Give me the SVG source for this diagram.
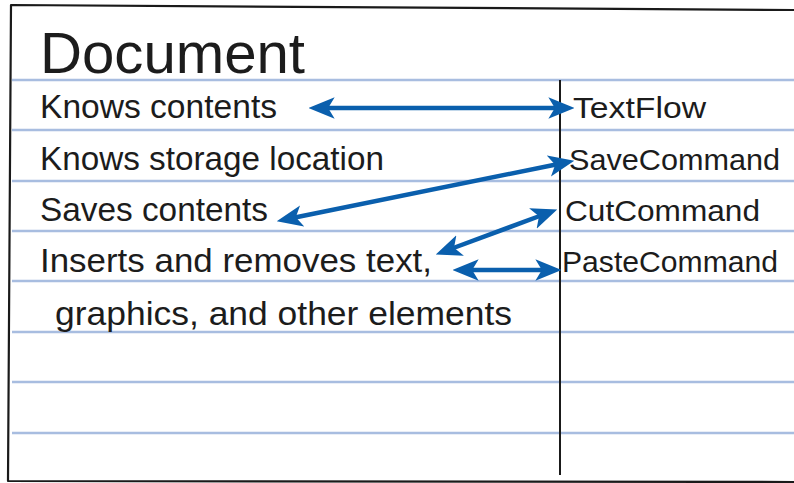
<svg xmlns="http://www.w3.org/2000/svg" width="794" height="483" viewBox="0 0 794 483">
  <defs>
    <style>
      .rule { stroke: #a8bde0; stroke-width: 2.5; fill: none; }
      .border { stroke: #1a1a1a; stroke-width: 2.2; fill: none; stroke-linejoin: round; }
      .txt { font-family: "Liberation Sans", "DejaVu Sans", sans-serif; fill: #1c1c1c; }
      .resp { font-size: 33px; }
      .collab { font-size: 30px; }
      .title { font-size: 58px; }
      .arrow { stroke: #0a5fad; stroke-width: 4.5; fill: none; marker-start: url(#head); marker-end: url(#head); }
    </style>
    <marker id="head" markerUnits="userSpaceOnUse" markerWidth="26" markerHeight="22" viewBox="0 0 24 20" refX="8" refY="10" orient="auto-start-reverse">
      <path d="M0,0 L24,10 L0,20 L6,10 Z" fill="#0a5fad"/>
    </marker>
    <linearGradient id="fade" x1="0" y1="0" x2="0" y2="1">
      <stop offset="0" stop-color="#555"/>
      <stop offset="1" stop-color="#555" stop-opacity="0"/>
    </linearGradient>
  </defs>

  <rect x="0" y="0" width="794" height="483" fill="#ffffff"/>

  <g id="card">
    <line x1="793" y1="28" x2="793" y2="300" stroke="url(#fade)" stroke-width="2"/>
    <g id="rules">
      <line class="rule" x1="12" y1="80" x2="794" y2="80"/>
      <line class="rule" x1="12" y1="130" x2="794" y2="130"/>
      <line class="rule" x1="12" y1="181" x2="794" y2="181"/>
      <line class="rule" x1="12" y1="231" x2="794" y2="231"/>
      <line class="rule" x1="12" y1="281" x2="794" y2="281"/>
      <line class="rule" x1="12" y1="332" x2="794" y2="332"/>
      <line class="rule" x1="12" y1="382" x2="794" y2="382"/>
      <line class="rule" x1="12" y1="433" x2="794" y2="433"/>
    </g>
    <path class="border" d="M794,10 L11,5 L8,481 L794,482"/>
    <line x1="560" y1="80" x2="560" y2="475" stroke="#1a1a1a" stroke-width="2"/>
  </g>

  <g id="title">
    <text class="txt title" x="40" y="73" textLength="265" lengthAdjust="spacingAndGlyphs">Document</text>
  </g>

  <g id="responsibilities">
    <text class="txt resp" x="40" y="118" textLength="237" lengthAdjust="spacingAndGlyphs">Knows contents</text>
    <text class="txt resp" x="40" y="170" textLength="344" lengthAdjust="spacingAndGlyphs">Knows storage location</text>
    <text class="txt resp" x="40" y="221" textLength="228" lengthAdjust="spacingAndGlyphs">Saves contents</text>
    <text class="txt resp" x="40" y="272" textLength="392" lengthAdjust="spacingAndGlyphs">Inserts and removes text,</text>
    <text class="txt resp" x="55" y="325" textLength="457" lengthAdjust="spacingAndGlyphs">graphics, and other elements</text>
  </g>

  <g id="collaborators">
    <text class="txt collab" x="573" y="118" textLength="133" lengthAdjust="spacingAndGlyphs">TextFlow</text>
    <text class="txt collab" x="569" y="170" textLength="211" lengthAdjust="spacingAndGlyphs">SaveCommand</text>
    <text class="txt collab" x="565" y="221" textLength="195" lengthAdjust="spacingAndGlyphs">CutCommand</text>
    <text class="txt collab" x="562" y="272" textLength="216" lengthAdjust="spacingAndGlyphs">PasteCommand</text>
  </g>

  <g id="connectors">
    <line class="arrow" x1="326" y1="108" x2="557" y2="108"/>
    <line class="arrow" x1="293.7" y1="217.8" x2="557.3" y2="164.2"/>
    <line class="arrow" x1="452" y1="248.5" x2="541" y2="215.5"/>
    <line class="arrow" x1="470" y1="270" x2="544" y2="270"/>
  </g>
</svg>
